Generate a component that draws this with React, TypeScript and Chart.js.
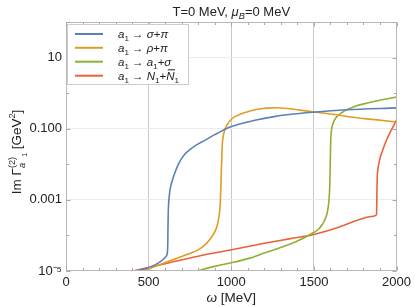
import { useEffect, useRef } from 'react';
import { Chart, registerables } from 'chart.js';

Chart.register(...registerables);

const FONT = '"Liberation Sans", Arial, sans-serif';

// ---- data (ω in MeV, Im Γ in GeV²) ----
const omegaSigmaPi = [420, 500, 560, 600, 610, 614, 616, 617, 618.5, 621, 625, 630, 637, 647, 660, 675, 695, 720, 750, 790, 840, 900, 973, 1050, 1150, 1250, 1350, 1493, 1700, 2000];
const valSigmaPi = [1e-5, 1.25e-5, 1.7e-5, 2.4e-5, 2.8e-5, 3.5e-5, 6.3e-5, 1.6e-4, 4e-4, 7.9e-4, 1.3e-3, 2.0e-3, 2.8e-3, 4.0e-3, 6.0e-3, 8.9e-3, 0.0135, 0.0195, 0.026, 0.035, 0.047, 0.068, 0.102, 0.135, 0.175, 0.215, 0.25, 0.29, 0.34, 0.385];

const omegaRhoPi = [460, 550, 650, 740, 810, 850, 880, 900, 915, 925, 932, 936, 939, 942, 945, 950, 961, 975, 1009, 1050, 1094, 1150, 1214, 1280, 1335, 1493, 1600, 1734, 1870, 2000];
const valRhoPi = [1e-5, 1.4e-5, 2.1e-5, 3e-5, 4.2e-5, 6e-5, 8.9e-5, 1.26e-4, 1.9e-4, 3.2e-4, 6.3e-4, 1.6e-3, 5e-3, 0.0126, 0.032, 0.056, 0.093, 0.13, 0.2, 0.25, 0.295, 0.345, 0.38, 0.39, 0.37, 0.3, 0.26, 0.21, 0.18, 0.155];

const omegaA1Sigma = [790, 900, 1000, 1112, 1200, 1311, 1400, 1474, 1520, 1553, 1575, 1585, 1592, 1596, 1598, 1600, 1602, 1606, 1615, 1637, 1665, 1698, 1750, 1819, 1900, 2000];
const valA1Sigma = [1e-5, 1.35e-5, 1.7e-5, 2.3e-5, 3.2e-5, 4.8e-5, 7e-5, 1.05e-4, 1.4e-4, 2.1e-4, 3.5e-4, 5.6e-4, 1.1e-3, 2.5e-3, 6.3e-3, 0.02, 0.05, 0.089, 0.138, 0.214, 0.275, 0.34, 0.43, 0.52, 0.63, 0.78];

const omegaNN = [405, 600, 800, 1009, 1200, 1350, 1493, 1650, 1776, 1850, 1879, 1881, 1883, 1887, 1897, 1915, 1940, 1970, 2000];
const valNN = [1e-5, 1.6e-5, 2.6e-5, 4e-5, 6e-5, 8e-5, 1.05e-4, 1.7e-4, 2.8e-4, 3.4e-4, 3.8e-4, 1.26e-3, 4e-3, 7e-3, 0.013, 0.024, 0.049, 0.095, 0.178];

const xTicks = [0, 500, 1000, 1500, 2000];
const yTicks = [1e-5, 1e-4, 1e-3, 1e-2, 1e-1, 1, 10, 100];
const yTickLabels: Record<number, string> = { [-5]: '10⁻⁵', [-3]: '0.001', [-1]: '0.100', [1]: '10' };

const colors = ['#5e81b5', '#e19c24', '#8fb032', '#eb6235'];

type Seg = { t: string; it?: boolean; s?: number; dy?: number; stack?: boolean; over?: boolean };

const legendSegs: Seg[][] = [
  [{ t: 'a', it: true }, { t: '1', s: 0.7, dy: 0.25 }, { t: ' → ' }, { t: 'σ', it: true }, { t: '+' }, { t: 'π', it: true }],
  [{ t: 'a', it: true }, { t: '1', s: 0.7, dy: 0.25 }, { t: ' → ' }, { t: 'ρ', it: true }, { t: '+' }, { t: 'π', it: true }],
  [{ t: 'a', it: true }, { t: '1', s: 0.7, dy: 0.25 }, { t: ' → ' }, { t: 'a', it: true }, { t: '1', s: 0.7, dy: 0.25 }, { t: '+' }, { t: 'σ', it: true }],
  [{ t: 'a', it: true }, { t: '1', s: 0.7, dy: 0.25 }, { t: ' → ' }, { t: 'N', it: true }, { t: '1', s: 0.7, dy: 0.25 }, { t: '+' }, { t: 'N', it: true, over: true }, { t: '1', s: 0.7, dy: 0.25 }],
];
const titleSegs: Seg[] = [{ t: 'T=0 MeV, ' }, { t: 'μ', it: true }, { t: 'B', it: true, s: 0.72, dy: 0.25 }, { t: '=0 MeV' }];
const xLabelSegs: Seg[] = [{ t: 'ω', it: true }, { t: ' [MeV]' }];
const yLabelSegs: Seg[] = [
  { t: 'Im Γ' },
  { t: '(2)', s: 0.68, dy: -0.45 },
  { t: 'a', it: true, s: 0.68, dy: 0.32, stack: true },
  { t: '1', s: 0.5, dy: 0.45 },
  { t: ' [GeV' },
  { t: '2', s: 0.68, dy: -0.42 },
  { t: ']' },
];

function drawRich(ctx: CanvasRenderingContext2D, segs: Seg[], x: number, y: number, size: number, align: 'left' | 'center') {
  const items: { seg: Seg; x: number; w: number; font: string; sz: number }[] = [];
  let cx = 0;
  let lastStart = 0;
  let lastW = 0;
  for (const seg of segs) {
    const sz = size * (seg.s || 1);
    const font = `${seg.it ? 'italic ' : ''}${sz}px ${FONT}`;
    ctx.font = font;
    const w = ctx.measureText(seg.t).width;
    let start: number;
    if (seg.stack) {
      start = lastStart;
      cx = Math.max(lastStart + lastW, start + w);
    } else {
      start = cx;
      cx = start + w;
    }
    items.push({ seg, x: start, w, font, sz });
    lastStart = start;
    lastW = w;
  }
  const x0 = align === 'center' ? x - cx / 2 : x;
  ctx.textAlign = 'left';
  ctx.textBaseline = 'alphabetic';
  for (const it of items) {
    ctx.font = it.font;
    const yy = y + (it.seg.dy || 0) * size;
    ctx.fillText(it.seg.t, x0 + it.x, yy);
    if (it.seg.over) {
      ctx.save();
      ctx.lineWidth = 1;
      ctx.beginPath();
      ctx.moveTo(x0 + it.x + 1.5, yy - it.sz * 0.86);
      ctx.lineTo(x0 + it.x + it.w + 0.5, yy - it.sz * 0.86);
      ctx.strokeStyle = ctx.fillStyle as string;
      ctx.stroke();
      ctx.restore();
    }
  }
}

const decorPlugin = {
  id: 'decor',
  afterDraw(chart: any) {
    const { ctx, chartArea: a, scales } = chart;
    const xs = scales.x;
    const ys = scales.y;
    ctx.save();
    ctx.strokeStyle = '#b8b8b8';
    ctx.lineWidth = 1;
    const L = Math.round(a.left) + 0.5;
    const R = Math.round(a.right) - 0.5;
    const T = Math.round(a.top) + 0.5;
    const B = Math.round(a.bottom) - 0.5;
    ctx.strokeRect(L, T, R - L, B - T);
    ctx.strokeStyle = '#a8a8a8';
    ctx.beginPath();
    for (let v = 0; v <= 2000; v += 100) {
      const px = Math.round(xs.getPixelForValue(v)) + 0.5;
      const len = v % 500 === 0 ? 4 : 2.5;
      ctx.moveTo(px, B);
      ctx.lineTo(px, B - len);
      ctx.moveTo(px, T);
      ctx.lineTo(px, T + len);
    }
    for (const v of yTicks) {
      const py = Math.round(ys.getPixelForValue(v)) + 0.5;
      const e = Math.round(Math.log10(v));
      const len = yTickLabels[e] ? 4 : 2.5;
      ctx.moveTo(L, py);
      ctx.lineTo(L + len, py);
      ctx.moveTo(R, py);
      ctx.lineTo(R - len, py);
    }
    ctx.stroke();

    ctx.fillStyle = '#ffffff';
    ctx.fillRect(67.5, 24.5, 121, 60);
    ctx.strokeStyle = '#cccccc';
    ctx.strokeRect(67.5, 24.5, 121, 60);
    const rows = [34, 47.8, 61.7, 75.7];
    rows.forEach((ry, i) => {
      ctx.strokeStyle = colors[i];
      ctx.lineWidth = 2;
      ctx.beginPath();
      ctx.moveTo(75, ry);
      ctx.lineTo(103, ry);
      ctx.stroke();
      ctx.fillStyle = '#222';
      drawRich(ctx, legendSegs[i], 118, ry + 4, 11.5, 'left');
    });

    ctx.fillStyle = '#222';
    drawRich(ctx, titleSegs, (a.left + a.right) / 2, 16, 13, 'center');
    drawRich(ctx, xLabelSegs, (a.left + a.right) / 2, 302, 13.5, 'center');
    ctx.save();
    ctx.translate(21, 152);
    ctx.rotate(-Math.PI / 2);
    drawRich(ctx, yLabelSegs, 0, 0, 13.5, 'center');
    ctx.restore();
    ctx.restore();
  },
};

function mk(xsArr: number[], ysArr: number[]) {
  return xsArr.map((x, i) => ({ x, y: ysArr[i] }));
}

export default function App() {
  const ref = useRef<HTMLCanvasElement | null>(null);
  useEffect(() => {
    if (!ref.current) return;
    const labels = ['a₁ → σ+π', 'a₁ → ρ+π', 'a₁ → a₁+σ', 'a₁ → N₁+N̄₁'];
    const series = [
      mk(omegaSigmaPi, valSigmaPi),
      mk(omegaRhoPi, valRhoPi),
      mk(omegaA1Sigma, valA1Sigma),
      mk(omegaNN, valNN),
    ];
    const chart = new Chart(ref.current, {
      type: 'line',
      data: {
        datasets: series.map((d, i) => ({
          label: labels[i],
          data: d,
          borderColor: colors[i],
          backgroundColor: colors[i],
          borderWidth: 1.6,
          pointRadius: 0,
          cubicInterpolationMode: 'monotone' as const,
          fill: false,
          clip: 0,
        })),
      },
      options: {
        animation: false,
        responsive: false,
        devicePixelRatio: 1,
        layout: { padding: { top: 22, right: 18, left: 0, bottom: 0 } },
        plugins: {
          legend: { display: false },
          title: { display: false },
          tooltip: { enabled: false },
        },
        scales: {
          x: {
            type: 'linear',
            min: 0,
            max: 2000,
            afterBuildTicks: (s: any) => {
              s.ticks = xTicks.map((v) => ({ value: v }));
            },
            afterFit: (s: any) => {
              s.height = 36;
            },
            ticks: {
              autoSkip: false,
              maxRotation: 0,
              padding: 4,
              color: '#222',
              font: { family: FONT, size: 13 },
              callback: (v: any) => String(v),
            },
            grid: {
              drawTicks: false,
              color: (c: any) => (c.tick && [500, 1000, 1500].includes(c.tick.value) ? '#c8c8c8' : 'rgba(0,0,0,0)'),
              lineWidth: 1,
            },
            border: { display: false },
          },
          y: {
            type: 'logarithmic',
            min: 1e-5,
            max: 100,
            afterBuildTicks: (s: any) => {
              s.ticks = yTicks.map((v) => ({ value: v }));
            },
            afterFit: (s: any) => {
              s.width = 66;
            },
            ticks: {
              autoSkip: false,
              padding: 4,
              color: '#222',
              font: { family: FONT, size: 13 },
              callback: (v: any) => yTickLabels[Math.round(Math.log10(Number(v)))] || '',
            },
            grid: {
              drawTicks: false,
              color: (c: any) => {
                if (!c.tick) return 'rgba(0,0,0,0)';
                const e = Math.round(Math.log10(c.tick.value));
                return e === 1 || e === -1 || e === -3 ? '#ececec' : 'rgba(0,0,0,0)';
              },
            },
            border: { display: false },
          },
        },
      },
      plugins: [decorPlugin],
    });
    return () => chart.destroy();
  }, []);
  return (
    <div style={{ position: 'absolute', left: 0, top: 0, width: 415, height: 307 }}>
      <canvas ref={ref} width={415} height={307} style={{ display: 'block' }} />
    </div>
  );
}
